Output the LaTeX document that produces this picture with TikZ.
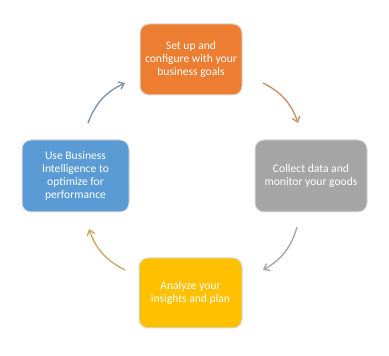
\documentclass[tikz,border=0pt]{standalone}
\usepackage{fontspec}
\setmainfont{Carlito}
\usetikzlibrary{arrows.meta}
\definecolor{corange}{HTML}{ED7D31}
\definecolor{cgray}{HTML}{A5A5A5}
\definecolor{cyellow}{HTML}{FFC000}
\definecolor{cblue}{HTML}{5B9BD5}
\definecolor{aorange}{HTML}{C9936A}
\definecolor{agray}{HTML}{A8A8A8}
\definecolor{ayellow}{HTML}{CCAA66}
\definecolor{ablue}{HTML}{8096AD}
\begin{document}
\begin{tikzpicture}[x=1pt,y=1pt,
  box/.style={rectangle, rounded corners=9pt, draw=black!15, line width=1pt,
    text=white, align=center, inner sep=0pt,
    font=\fontsize{11.6}{12.8}\selectfont},
  flow/.style={line width=1.4pt, -{Straight Barb[length=5pt,width=8pt]}, bend left=22}]
\useasboundingbox (0,0) rectangle (389,356);
\node[box, fill=corange, minimum width=102pt, minimum height=71pt] (setup) at (191,296.5) {Set up and\\configure with your\\business goals};
\node[box, fill=cgray, minimum width=112pt, minimum height=72pt] (collect) at (311,180) {Collect data and\\monitor your goods};
\node[box, fill=cyellow, minimum width=103pt, minimum height=70pt] (analyze) at (190.5,63) {Analyze your\\insights and plan};
\node[box, fill=cblue, minimum width=107pt, minimum height=72pt] (use) at (75.5,180) {Use Business\\Intelligence to\\optimize for\\performance};
\coordinate (a1s) at (88,233); \coordinate (a1e) at (125,273);
\coordinate (a2s) at (263,273); \coordinate (a2e) at (298,233);
\coordinate (a3s) at (297,129); \coordinate (a3e) at (263,86);
\coordinate (a4s) at (125,86); \coordinate (a4e) at (89,127);
\draw[flow, ablue] (a1s) to (a1e);
\draw[flow, aorange] (a2s) to (a2e);
\draw[flow, agray] (a3s) to (a3e);
\draw[flow, ayellow] (a4s) to (a4e);
\end{tikzpicture}
\end{document}
